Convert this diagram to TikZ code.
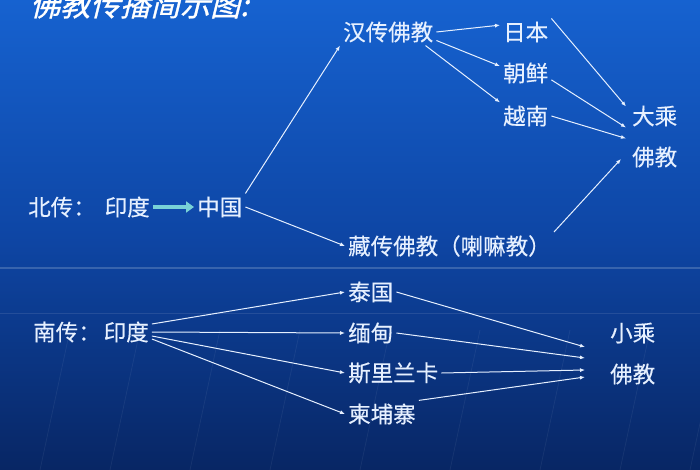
\documentclass[tikz,border=0pt]{standalone}
\usepackage{fontspec}
\setmainfont{Noto Sans CJK SC}
\newfontfamily\titlefont[FakeSlant=0.25,FakeBold=1]{Noto Sans CJK SC}
\newfontfamily\lblfont[FakeBold=0.4]{Noto Sans CJK SC}
\usetikzlibrary{arrows.meta,calc}
\definecolor{bgtop}{RGB}{22,98,208}
\definecolor{bgmid}{RGB}{14,70,165}
\definecolor{bgbot}{RGB}{8,38,100}
\definecolor{txt}{RGB}{230,240,255}
\definecolor{teal}{RGB}{120,210,215}
\begin{document}
\begin{tikzpicture}[x=1pt,y=-1pt,
  lbl/.style={text=txt,inner sep=3pt,anchor=west,font=\lblfont\fontsize{22.5}{25}\selectfont},
  arr/.style={draw=txt,line width=1pt,-{Latex[length=5pt,width=4pt]}}]
\useasboundingbox (0,0) rectangle (700,470);
\shade[top color=bgtop,bottom color=bgbot,middle color=bgmid] (0,0) rectangle (700,470);
\draw[white,opacity=0.18,line width=1.2pt] (0,268) -- (700,268);
\draw[white,opacity=0.10,line width=1pt] (0,313) -- (700,313);
\foreach \x/\y in {40/470,110/470,190/470,270/470,360/470,450/470,540/470,620/470,690/470}
  \draw[white,opacity=0.06,line width=0.8pt] (\x+30,330) -- (\x,\y);
% title
\node[anchor=base west,inner sep=0,text=white] (title) at (30,16) {\titlefont\fontsize{30}{34}\selectfont 佛教传播简示图:};
% northern
\node[lbl] (bei) at (25,207) {北传：\hspace{9pt}印度};
\node[lbl] (zg) at (194,207) {中国};
\node[lbl] (han) at (340,32) {汉传佛教};
\node[lbl] (rb) at (500,32) {日本};
\node[lbl] (cx) at (500,73) {朝鲜};
\node[lbl] (yn) at (500,116) {越南};
\node[lbl] (dc) at (629,116) {大乘};
\node[lbl] (fj1) at (629,157) {佛教};
\node[lbl] (zang) at (345,246) {藏传佛教（喇嘛教）};
\draw[teal,line width=4pt,-{Triangle[length=8pt,width=11pt]}] (bei.east) -- (zg.west);
\draw[arr] (zg.north east) -- (han.south west);
\draw[arr] (zg.east) -- (zang.west);
\draw[arr] (han.east) -- (rb.165);
\draw[arr] (han.-10) -- (cx.165);
\draw[arr] (han.-20) -- (yn.north west);
\draw[arr] (rb.north east) -- ($(dc.north west)+(-3,4)$);
\draw[arr] (cx.-15) -- ($(dc.south west)+(-3,-2)$);
\draw[arr] (yn.east) -- ($(fj1.north west)+(-3,-5)$);
\draw[arr] (zang.north east) -- ($(fj1.west)+(-8,2)$);
% southern
\node[lbl] (nan) at (30,332) {南传：\hspace{3pt}印度};
\node[lbl] (tg) at (345,292) {泰国};
\node[lbl] (md) at (345,333) {缅甸};
\node[lbl] (sl) at (345,373) {斯里兰卡};
\node[lbl] (jp) at (345,414) {柬埔寨};
\node[lbl] (xc) at (607,333) {小乘};
\node[lbl] (fj2) at (607,374) {佛教};
\draw[arr] (nan.east) ++(0,-8) coordinate (n1) (n1) -- (tg.west);
\draw[arr] (nan.east) -- (md.west);
\draw[arr] (nan.east) ++(0,4) coordinate (n3) (n3) -- (sl.west);
\draw[arr] (nan.east) ++(0,7) coordinate (n4) (n4) -- (jp.west);
\draw[arr] (tg.east) -- ($(fj2.west)+(-22,-27)$);
\draw[arr] (md.east) -- ($(fj2.west)+(-22,-16)$);
\draw[arr] (sl.east) -- ($(fj2.west)+(-22,-4)$);
\draw[arr] (jp.north east) -- ($(fj2.west)+(-22,3)$);
\end{tikzpicture}
\end{document}
